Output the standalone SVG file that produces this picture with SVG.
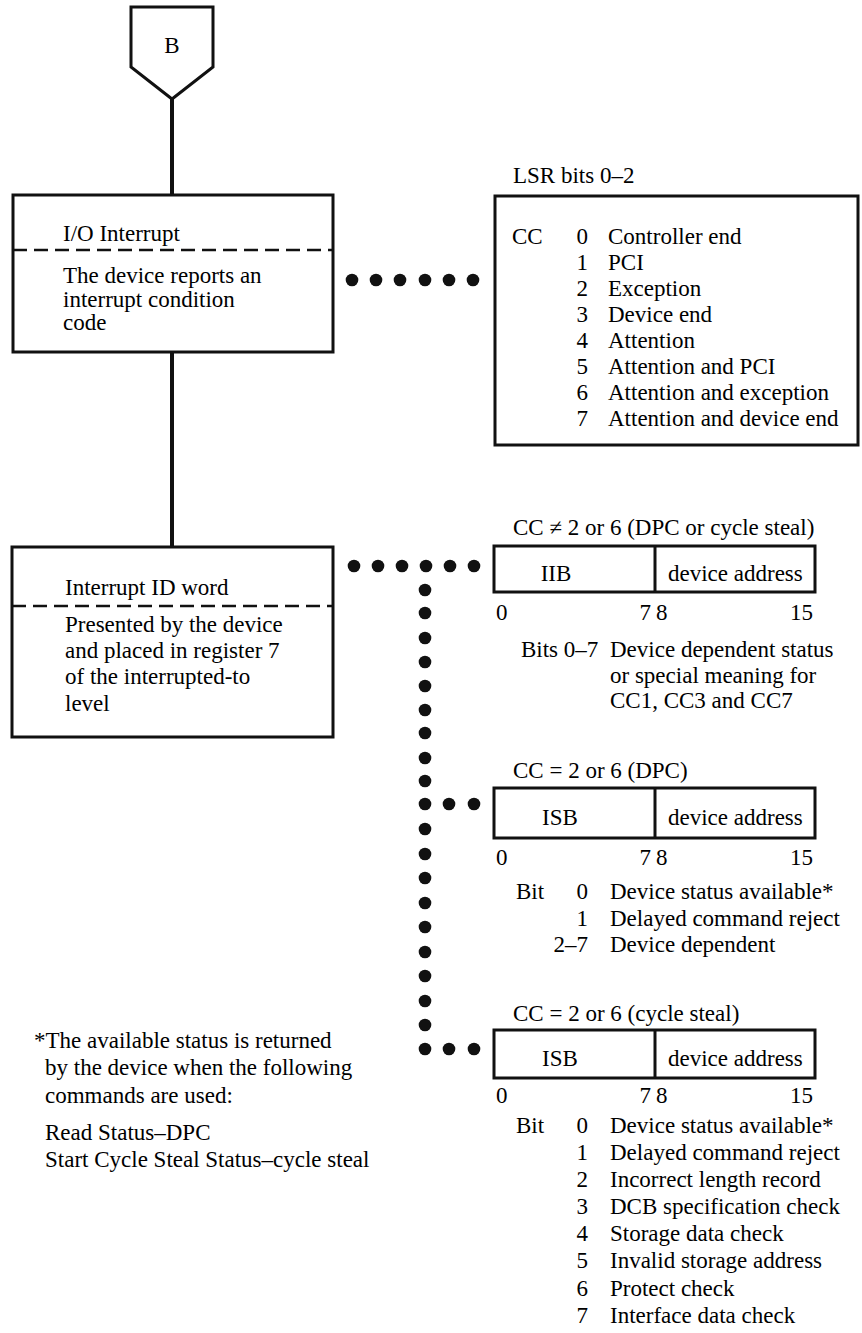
<svg xmlns="http://www.w3.org/2000/svg" width="862" height="1333" viewBox="0 0 862 1333">
<style>
text{font-family:"Liberation Serif","Times New Roman",serif;font-size:23px;fill:#000}
.box{fill:none;stroke:#111;stroke-width:3}
.dash{stroke:#111;stroke-width:2.5;stroke-dasharray:14 7;fill:none}
.flow{stroke:#111;stroke-width:4;fill:none}
.dot{fill:#111}
.e{text-anchor:end}
.m{text-anchor:middle}
</style>
<rect width="862" height="1333" fill="#fff"/>

<g id="connectors">
  <line class="flow" x1="172" y1="99" x2="172" y2="195"/>
  <line class="flow" x1="172" y1="352" x2="172" y2="547"/>
  <g id="dots-lsr">
    <circle class="dot" cx="352" cy="280" r="6.3"/><circle class="dot" cx="376" cy="280" r="6.3"/><circle class="dot" cx="400" cy="280" r="6.3"/><circle class="dot" cx="425" cy="280" r="6.3"/><circle class="dot" cx="449" cy="280" r="6.3"/><circle class="dot" cx="473" cy="280" r="6.3"/>
  </g>
  <g id="dots-id">
    <circle class="dot" cx="354" cy="566" r="6.3"/><circle class="dot" cx="378" cy="566" r="6.3"/><circle class="dot" cx="402" cy="566" r="6.3"/><circle class="dot" cx="426" cy="566" r="6.3"/><circle class="dot" cx="450" cy="566" r="6.3"/><circle class="dot" cx="474" cy="566" r="6.3"/>
    <circle class="dot" cx="425" cy="590" r="6.3"/><circle class="dot" cx="425" cy="613" r="6.3"/><circle class="dot" cx="425" cy="638" r="6.3"/><circle class="dot" cx="425" cy="662" r="6.3"/><circle class="dot" cx="425" cy="686" r="6.3"/><circle class="dot" cx="425" cy="710" r="6.3"/><circle class="dot" cx="425" cy="733" r="6.3"/><circle class="dot" cx="425" cy="758" r="6.3"/><circle class="dot" cx="425" cy="781" r="6.3"/>
    <circle class="dot" cx="425" cy="804" r="6.3"/><circle class="dot" cx="449" cy="804" r="6.3"/><circle class="dot" cx="474" cy="804" r="6.3"/>
    <circle class="dot" cx="425" cy="829" r="6.3"/><circle class="dot" cx="425" cy="854" r="6.3"/><circle class="dot" cx="425" cy="878" r="6.3"/><circle class="dot" cx="425" cy="903" r="6.3"/><circle class="dot" cx="425" cy="927" r="6.3"/><circle class="dot" cx="425" cy="952" r="6.3"/><circle class="dot" cx="425" cy="976" r="6.3"/><circle class="dot" cx="425" cy="1001" r="6.3"/><circle class="dot" cx="425" cy="1025" r="6.3"/>
    <circle class="dot" cx="425" cy="1049" r="6.3"/><circle class="dot" cx="449" cy="1049" r="6.3"/><circle class="dot" cx="474" cy="1049" r="6.3"/>
  </g>
</g>

<g id="node-B">
  <polygon class="box" points="131,7 213,7 213,67 172,99 131,67"/>
  <text class="m" x="172" y="53" font-size="22">B</text>
</g>

<g id="node-io-interrupt">
  <rect class="box" x="13" y="195" width="320" height="157"/>
  <line class="dash" x1="13" y1="250" x2="333" y2="250"/>
  <text x="63" y="241">I/O Interrupt</text>
  <text x="63" y="283">The device reports an</text>
  <text x="63" y="307">interrupt condition</text>
  <text x="63" y="330">code</text>
</g>

<g id="node-interrupt-id">
  <rect class="box" x="12" y="547" width="321" height="190"/>
  <line class="dash" x1="12" y1="606" x2="333" y2="606"/>
  <text x="65" y="595">Interrupt ID word</text>
  <text x="65" y="632">Presented by the device</text>
  <text x="65" y="658">and placed in register 7</text>
  <text x="65" y="684">of the interrupted-to</text>
  <text x="65" y="711">level</text>
</g>

<g id="node-lsr">
  <text x="513" y="183">LSR bits 0–2</text>
  <rect class="box" x="495" y="196" width="363" height="249"/>
  <text x="512" y="244">CC</text>
  <text class="e" x="588" y="244">0</text><text x="608" y="244">Controller end</text>
  <text class="e" x="588" y="270">1</text><text x="608" y="270">PCI</text>
  <text class="e" x="588" y="296">2</text><text x="608" y="296">Exception</text>
  <text class="e" x="588" y="322">3</text><text x="608" y="322">Device end</text>
  <text class="e" x="588" y="348">4</text><text x="608" y="348">Attention</text>
  <text class="e" x="588" y="374">5</text><text x="608" y="374">Attention and PCI</text>
  <text class="e" x="588" y="400">6</text><text x="608" y="400">Attention and exception</text>
  <text class="e" x="588" y="426">7</text><text x="608" y="426">Attention and device end</text>
</g>

<g id="node-iib">
  <text x="513" y="535">CC ≠ 2 or 6 (DPC or cycle steal)</text>
  <rect class="box" x="494" y="546" width="321" height="46"/>
  <line class="box" x1="655" y1="546" x2="655" y2="592"/>
  <text class="m" x="556" y="581">IIB</text>
  <text x="668" y="581">device address</text>
  <text x="496" y="620">0</text><text class="e" x="651" y="620">7</text><text x="656" y="620">8</text><text class="e" x="813" y="620">15</text>
  <text x="521" y="657">Bits 0–7</text>
  <text x="610" y="657">Device dependent status</text>
  <text x="610" y="683">or special meaning for</text>
  <text x="610" y="708">CC1, CC3 and CC7</text>
</g>

<g id="node-isb-dpc">
  <text x="513" y="778">CC = 2 or 6 (DPC)</text>
  <rect class="box" x="494" y="788" width="321" height="50"/>
  <line class="box" x1="655" y1="788" x2="655" y2="838"/>
  <text class="m" x="560" y="825">ISB</text>
  <text x="668" y="825">device address</text>
  <text x="496" y="865">0</text><text class="e" x="651" y="865">7</text><text x="656" y="865">8</text><text class="e" x="813" y="865">15</text>
  <text x="516" y="899">Bit</text>
  <text class="e" x="588" y="899">0</text><text x="610" y="899">Device status available*</text>
  <text class="e" x="588" y="926">1</text><text x="610" y="926">Delayed command reject</text>
  <text class="e" x="588" y="952">2–7</text><text x="610" y="952">Device dependent</text>
</g>

<g id="node-isb-cs">
  <text x="513" y="1021">CC = 2 or 6 (cycle steal)</text>
  <rect class="box" x="494" y="1030" width="321" height="48"/>
  <line class="box" x1="655" y1="1030" x2="655" y2="1078"/>
  <text class="m" x="560" y="1066">ISB</text>
  <text x="668" y="1066">device address</text>
  <text x="496" y="1103">0</text><text class="e" x="651" y="1103">7</text><text x="656" y="1103">8</text><text class="e" x="813" y="1103">15</text>
  <text x="516" y="1133">Bit</text>
  <text class="e" x="588" y="1133">0</text><text x="610" y="1133">Device status available*</text>
  <text class="e" x="588" y="1160">1</text><text x="610" y="1160">Delayed command reject</text>
  <text class="e" x="588" y="1187">2</text><text x="610" y="1187">Incorrect length record</text>
  <text class="e" x="588" y="1214">3</text><text x="610" y="1214">DCB specification check</text>
  <text class="e" x="588" y="1241">4</text><text x="610" y="1241">Storage data check</text>
  <text class="e" x="588" y="1268">5</text><text x="610" y="1268">Invalid storage address</text>
  <text class="e" x="588" y="1296">6</text><text x="610" y="1296">Protect check</text>
  <text class="e" x="588" y="1323">7</text><text x="610" y="1323">Interface data check</text>
</g>

<g id="footnote">
  <text x="34" y="1048">*The available status is returned</text>
  <text x="45" y="1075">by the device when the following</text>
  <text x="45" y="1103">commands are used:</text>
  <text x="45" y="1140">Read Status–DPC</text>
  <text x="45" y="1167">Start Cycle Steal Status–cycle steal</text>
</g>
</svg>
